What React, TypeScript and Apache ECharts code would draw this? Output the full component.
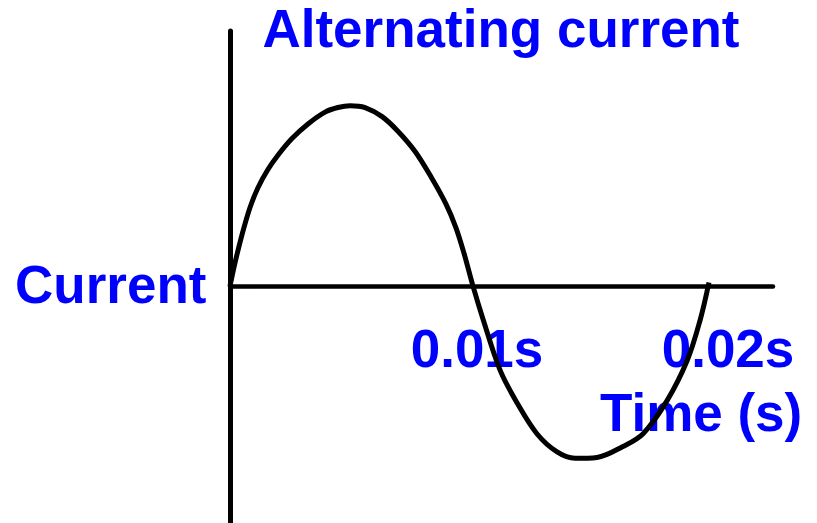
import React, { useEffect, useRef } from "react";
import * as echarts from "echarts";

// time (s) and current (arbitrary units, peak = 1)
const timeValues = [0, 0.00021, 0.00049, 0.00082, 0.00115, 0.00156, 0.00198, 0.00255, 0.00321, 0.00391, 0.00444, 0.00494, 0.00556, 0.00626, 0.00691, 0.00761, 0.00827, 0.00889, 0.0093, 0.00963, 0.01, 0.01041, 0.01111, 0.01181, 0.01263, 0.01346, 0.0142, 0.0151, 0.01617, 0.017, 0.01798, 0.01881, 0.01934, 0.01971];
const currentValues = [0, 0.13, 0.28, 0.43, 0.54, 0.64, 0.72, 0.81, 0.89, 0.955, 0.98, 0.99, 0.98, 0.93, 0.85, 0.74, 0.6, 0.45, 0.32, 0.18, 0, -0.18, -0.46, -0.64, -0.81, -0.91, -0.945, -0.94, -0.88, -0.81, -0.63, -0.41, -0.19, 0.02];
const tickValues = [0.01, 0.02];
const tickLabels = ["0.01s", "0.02s"];
const titleText = "Alternating current";
const yName = "Current";
const xName = "Time (s)";

const BLUE = "#0000ff";
const FONT = "'Liberation Sans', Arial, sans-serif";

export default function App() {
  const ref = useRef<HTMLDivElement>(null);
  useEffect(() => {
    if (!ref.current) return;
    const chart = echarts.init(ref.current, null, { renderer: "svg" });
    const data = timeValues.map((t, i) => [t, currentValues[i]]);
    chart.setOption({
      animation: false,
      backgroundColor: "#ffffff",
      title: {
        text: titleText,
        left: 501,
        top: 28,
        textAlign: "center",
        textVerticalAlign: "middle",
        padding: 0,
        textStyle: { color: BLUE, fontSize: 53, fontWeight: "bold", fontFamily: FONT },
      },
      grid: { left: 230, right: 44, top: 31, bottom: 0, containLabel: false, outerBoundsMode: "none" },
      xAxis: {
        type: "value",
        min: 0,
        max: 0.022346,
        axisLine: { show: true, onZero: true, lineStyle: { color: "#000", width: 4.5 } },
        axisTick: { show: false },
        splitLine: { show: false },
        axisLabel: {
          show: true,
          customValues: tickValues,
          margin: -201,
          formatter: (v: number) => {
            const i = tickValues.findIndex((t) => Math.abs(t - v) < 1e-9);
            return i === 0 ? `{a|${tickLabels[0]}}` : `{b|${tickLabels[1]}}`;
          },
          rich: {
            a: { color: BLUE, fontSize: 53, fontWeight: "bold", fontFamily: FONT, padding: [0, 0, 0, 8] },
            b: { color: BLUE, fontSize: 53, fontWeight: "bold", fontFamily: FONT, padding: [0, 0, 0, 24] },
          },
        },
      },
      yAxis: {
        type: "value",
        min: -1.3,
        max: 1.4,
        axisLine: { show: true, onZero: false, lineStyle: { color: "#000", width: 5 } },
        axisTick: { show: false },
        splitLine: { show: false },
        axisLabel: { show: false },
      },
      graphic: [
        {
          type: "text",
          left: 15,
          top: 258,
          style: { text: yName, fill: BLUE, fontSize: 53, fontWeight: "bold", fontFamily: FONT },
        },
        {
          type: "text",
          left: 600,
          top: 386,
          style: { text: xName, fill: BLUE, fontSize: 53, fontWeight: "bold", fontFamily: FONT },
        },
      ],
      series: [
        {
          type: "line",
          data,
          smooth: 0.35,
          showSymbol: false,
          symbol: "none",
          lineStyle: { color: "#000", width: 5 },
          z: 5,
        },
      ],
    });
    return () => chart.dispose();
  }, []);
  return <div ref={ref} style={{ position: "absolute", left: 0, top: 0, width: 817, height: 523 }} />;
}
